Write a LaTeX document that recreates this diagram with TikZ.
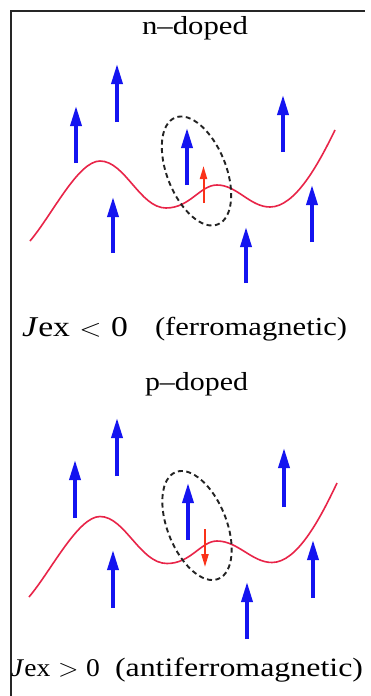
\documentclass[tikz,border=0pt]{standalone}
\usepackage{fontspec}
\setmainfont{Liberation Serif}
\usepackage{graphicx}
\usetikzlibrary{arrows.meta}
\definecolor{spinblue}{RGB}{20,20,240}
\definecolor{curvered}{RGB}{232,36,72}
\definecolor{carrierred}{RGB}{250,50,25}
\definecolor{dashgray}{RGB}{35,35,35}
\newcommand{\fitlabel}[3]{\resizebox{#1pt}{\height}{\fontsize{#2}{#2}\selectfont #3}}
\begin{document}
\begin{tikzpicture}[x=1pt,y=-1pt,
  spin/.style={spinblue, line width=3.5pt, -{Triangle[length=20pt,width=11pt]}},
  carrier/.style={carrierred, line width=2pt, -{Triangle[length=13pt,width=7pt]}},
  band/.style={curvered, line width=1.6pt},
  halo/.style={dashgray, line width=1.9pt, dash pattern=on 5pt off 3.5pt},
  frameline/.style={black!85, line width=2pt},
  lbl/.style={inner sep=0pt, outer sep=0pt, anchor=base west}]

\useasboundingbox[fill=white] (0,0) rectangle (370,696);

% frame
\draw[frameline] (11,696) -- (11,11) -- (365,11);

% ---------- top panel (n-doped) ----------
\node[lbl] (ntitle) at (142,34.5) {\fitlabel{106}{26}{n–doped}};

\draw[band] (30,241) .. controls (52,215) and (78,161) .. (100,161)
  .. controls (125,161) and (140,208) .. (166,208)
  .. controls (190,208) and (200,185) .. (217,185)
  .. controls (237,185) and (250,207) .. (270,207)
  .. controls (295,207) and (318,165) .. (335,130);

\draw[spin] (76,163) -- (76,106);
\draw[spin] (117,122) -- (117,64);
\draw[spin] (113,253) -- (113,197);
\draw[spin] (187,185) -- (187,128);
\draw[spin] (283,152) -- (283,95);
\draw[spin] (246,283) -- (246,227);
\draw[spin] (312,242) -- (312,185);
\draw[carrier] (203.5,203) -- (203.5,166);

\draw[halo, rotate around={21.7:(196.5,171)}] (196.5,171) ellipse [x radius=29.5, y radius=57.5];

\node[lbl] (jtop) at (22,336.7) {\fitlabel{106}{28.7}{\textit{J}ex\hspace{0.28em}$<$\hspace{0.28em}0}};
\node[lbl] (ftop) at (155,335.5) {\fitlabel{192}{26}{(ferromagnetic)}};

% ---------- bottom panel (p-doped) ----------
\node[lbl] (ptitle) at (145,390) {\fitlabel{103}{26}{p–doped}};

\draw[band] (29,597) .. controls (51,571) and (78,516.5) .. (100,516.5)
  .. controls (125,516.5) and (140,563.5) .. (167,563.5)
  .. controls (191,563.5) and (201,541) .. (217,541)
  .. controls (238,541) and (252,562.5) .. (272,562.5)
  .. controls (297,562.5) and (320,519) .. (337,483);

\draw[spin] (75,518) -- (75,460);
\draw[spin] (117,476) -- (117,418);
\draw[spin] (113,608) -- (113,550);
\draw[spin] (188,540) -- (188,483);
\draw[spin] (284,507) -- (284,448);
\draw[spin] (247,639) -- (247,582);
\draw[spin] (313,598) -- (313,540);
\draw[carrier] (205,529) -- (205,567);

\draw[halo, rotate around={21.7:(197,525.5)}] (197,525.5) ellipse [x radius=29.5, y radius=57.5];

\node[lbl] (jbot) at (11,676.7) {\fitlabel{89}{25.5}{\textit{J}ex\hspace{0.28em}$>$\hspace{0.28em}0}};
\node[lbl] (fbot) at (115,676.7) {\fitlabel{248}{26.5}{(antiferromagnetic)}};
\end{tikzpicture}
\end{document}
